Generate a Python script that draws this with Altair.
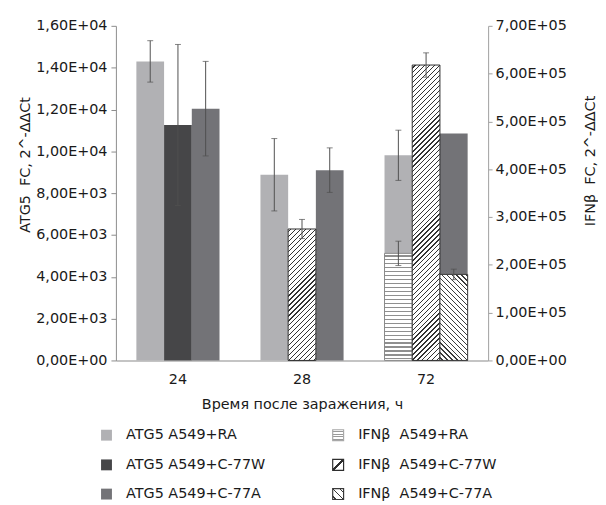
import altair as alt
import pandas as pd

# ---------------- data ----------------
times = ["24", "28", "72"]
series = ["A549+RA", "A549+C-77W", "A549+C-77A"]

atg5_ra = [14300, 8880, 9810]
atg5_c77w = [11260, None, None]
atg5_c77a = [12040, 9100, 10850]
atg5_ra_err = [990, 1730, 1200]
atg5_c77w_err = [3850, None, None]
atg5_c77a_err = [2260, 1065, None]

ifn_ra = [None, None, 224000]
ifn_c77w = [None, 275000, 618000]
ifn_c77a = [None, None, 180000]
ifn_ra_err = [None, None, 25500]
ifn_c77w_err = [None, 20000, 25500]
ifn_c77a_err = [None, None, 11000]

left_ticks = [0, 2000, 4000, 6000, 8000, 10000, 12000, 14000, 16000]
right_ticks = [0, 100000, 200000, 300000, 400000, 500000, 600000, 700000]

atg5_labels = ["ATG5 A549+RA", "ATG5 A549+C-77W", "ATG5 A549+C-77A"]
ifn_labels = ["IFN\u03b2\u00a0 A549+RA", "IFN\u03b2\u00a0 A549+C-77W", "IFN\u03b2\u00a0 A549+C-77A"]

x_title = "Время после заражения, ч"
left_title = "ATG5\u00a0 FC, 2^-\u0394\u0394Ct"
right_title = "IFN\u03b2\u00a0 FC, 2^-\u0394\u0394Ct"

# ---------------- styling / layout ----------------
FONT = "DejaVu Sans"
FS = 14.5
TXT = "#1a1a1a"
W, H = 376, 338
LMAX, RMAX = 16000, 700000
P_IN, P_OUT = 0.33, 0.165
atg5_colors = ["#b1b1b4", "#464648", "#737377"]
ERR = "#505050"

step = W / (len(times) - P_IN + 2 * P_OUT)
bar_w = step * (1 - P_IN) / len(series)


def long_df(vals, errs):
    rows = []
    for s, vs, es in zip(series, vals, errs):
        for t, v, e in zip(times, vs, es):
            if v is None:
                continue
            rows.append(dict(time=t, series=s, value=v, err=e))
    return pd.DataFrame(rows)


atg5 = long_df([atg5_ra, atg5_c77w, atg5_c77a], [atg5_ra_err, atg5_c77w_err, atg5_c77a_err])
ifn = long_df([ifn_ra, ifn_c77w, ifn_c77a], [ifn_ra_err, ifn_c77w_err, ifn_c77a_err])


def err_df(df):
    d = df.dropna(subset=["err"]).copy()
    d["lo"] = d["value"] - d["err"]
    d["hi"] = d["value"] + d["err"]
    return d


atg5_e = err_df(atg5)
ifn_e = err_df(ifn)


def sci_expr():
    e = "floor(log(datum.value) / LN10 + 1e-9)"
    return ("datum.value == 0 ? '0,00E+00' : replace(format(datum.value / pow(10, " + e +
            "), '.2f'), '.', ',') + 'E+' + (" + e + " < 10 ? '0' : '') + " + e)


X = alt.X(
    "time:N",
    scale=alt.Scale(domain=times, paddingInner=P_IN, paddingOuter=P_OUT),
    axis=alt.Axis(
        title=x_title, ticks=False, labelPadding=12, labelAngle=0,
        labelFont=FONT, labelFontSize=FS, labelColor=TXT,
        domainColor="#b0b0b0", domainWidth=1.5,
        titleFont=FONT, titleFontSize=FS, titleFontWeight="normal", titleColor=TXT,
        titleY=44.5, titleBaseline="middle",
    ),
)
XO = alt.XOffset("series:N", scale=alt.Scale(domain=series, paddingInner=0, paddingOuter=0))


def YL(field):
    return alt.Y(
        field,
        scale=alt.Scale(domain=[0, LMAX], nice=False, zero=True),
        axis=alt.Axis(
            orient="left", values=left_ticks, labelExpr=sci_expr(), grid=False,
            tickSize=5, tickColor="#8c8c8c", domainColor="#8c8c8c", labelPadding=4,
            labelFont=FONT, labelFontSize=FS, labelColor=TXT,
            title=left_title, titleFont=FONT, titleFontSize=FS, titleFontWeight="normal",
            titleColor=TXT, titleAngle=270, titleX=-91, titleY=140, titleAlign="center",
            titleBaseline="middle",
        ),
    )


def YR(field):
    return alt.Y(
        field,
        scale=alt.Scale(domain=[0, RMAX], nice=False, zero=True),
        axis=alt.Axis(
            orient="right", values=right_ticks, labelExpr=sci_expr(), grid=False,
            tickSize=4, tickColor="#a0a0a0", domainColor="#a0a0a0", labelPadding=3,
            labelFont=FONT, labelFontSize=FS, labelColor=TXT,
            title=right_title, titleFont=FONT, titleFontSize=FS, titleFontWeight="normal",
            titleColor=TXT, titleAngle=270, titleX=103.5, titleY=136, titleAlign="center",
            titleBaseline="middle",
        ),
    )


def stripe_grad(kind, w, h, period, lw, color, phase=None):
    if phase is None:
        phase = period / 2
    if kind == "h":
        span = h
        coords = dict(x1=0, y1=0, x2=0, y2=1)
    else:
        span = w + h
        k = (w + h) / (w * w + h * h)
        if kind == "/":
            coords = dict(x1=0, y1=0, x2=k * w, y2=k * h)
        else:
            coords = dict(x1=0, y1=1, x2=k * w, y2=1 - k * h)
    stops = [alt.GradientStop(offset=0, color="white")]
    i = 0
    while True:
        a = (phase + i * period) / span
        b = min((phase + i * period + lw) / span, 1)
        if a >= 1:
            break
        stops += [alt.GradientStop(offset=a, color="white"), alt.GradientStop(offset=a, color=color),
                  alt.GradientStop(offset=b, color=color), alt.GradientStop(offset=b, color="white")]
        i += 1
    stops.append(alt.GradientStop(offset=1, color="white"))
    return alt.LinearGradient(gradient="linear", stops=stops, **coords)


pattern_of = {
    "A549+RA": ("h", 4.0, 1.2, "#8f8f8f", "#8a8a8a"),
    "A549+C-77W": ("/", 5.0, 1.3, "#333333", "#2e2e2e"),
    "A549+C-77A": ("\\", 5.0, 1.2, "#3c3c3c", "#3a3a3a"),
}

# ---------------- ATG5 group (left axis) ----------------
atg5_bars = alt.Chart(atg5).mark_bar().encode(
    x=X, xOffset=XO, y=YL("value:Q"),
    color=alt.Color("series:N", scale=alt.Scale(domain=series, range=atg5_colors), legend=None),
)
atg5_rule = alt.Chart(atg5_e).mark_rule(color=ERR, strokeWidth=1).encode(
    x=X, xOffset=XO, y=YL("lo:Q"), y2="hi:Q")
atg5_tlo = alt.Chart(atg5_e).mark_tick(color=ERR, size=6, thickness=1).encode(x=X, xOffset=XO, y=YL("lo:Q"))
atg5_thi = alt.Chart(atg5_e).mark_tick(color=ERR, size=6, thickness=1).encode(x=X, xOffset=XO, y=YL("hi:Q"))
left_group = alt.layer(atg5_bars, atg5_rule, atg5_tlo, atg5_thi)

# ---------------- IFN group (right axis) ----------------
ifn_layers = []
for _, r in ifn.iterrows():
    kind, per, lw, col, stroke = pattern_of[r["series"]]
    h = r["value"] / RMAX * H
    g = stripe_grad(kind, bar_w, h, per, lw, col)
    ifn_layers.append(
        alt.Chart(pd.DataFrame([r])).mark_bar(fill=g, stroke=stroke, strokeWidth=1).encode(
            x=X, xOffset=XO, y=YR("value:Q"))
    )
ifn_rule = alt.Chart(ifn_e).mark_rule(color=ERR, strokeWidth=1).encode(
    x=X, xOffset=XO, y=YR("lo:Q"), y2="hi:Q")
ifn_tlo = alt.Chart(ifn_e).mark_tick(color=ERR, size=6, thickness=1).encode(x=X, xOffset=XO, y=YR("lo:Q"))
ifn_thi = alt.Chart(ifn_e).mark_tick(color=ERR, size=6, thickness=1).encode(x=X, xOffset=XO, y=YR("hi:Q"))
right_group = alt.layer(*ifn_layers, ifn_rule, ifn_tlo, ifn_thi)

# ---------------- legend (below the plot) ----------------
SW = 11
row_y = [413.5, 443.5, 473.0]
col_sw = [-15, 219]
col_tx = [10.3, 244.7]
legend_layers = []
for i, lab in enumerate(atg5_labels):
    d = pd.DataFrame({"label": [lab]})
    legend_layers.append(alt.Chart(d).mark_rect(fill=atg5_colors[i]).encode(
        x=alt.value(col_sw[0]), x2=alt.value(col_sw[0] + SW),
        y=alt.value(row_y[i] - SW / 2), y2=alt.value(row_y[i] + SW / 2)))
    legend_layers.append(alt.Chart(d).mark_text(align="left", baseline="middle", font=FONT,
                                                fontSize=FS, color=TXT).encode(
        x=alt.value(col_tx[0]), y=alt.value(row_y[i]), text="label:N"))
sw_patterns = [
    stripe_grad("h", SW, SW, 2.7, 1.0, "#9a9a9a", phase=1.2),
    stripe_grad("/", SW, SW, 22, 2.2, "#2e2e2e", phase=9.9),
    stripe_grad("\\", SW, SW, 7.3, 1.6, "#3a3a3a", phase=2.8),
]
sw_strokes = ["#a8a8a8", "#2e2e2e", "#3a3a3a"]
for i, lab in enumerate(ifn_labels):
    d = pd.DataFrame({"label": [lab]})
    legend_layers.append(alt.Chart(d).mark_rect(fill=sw_patterns[i], stroke=sw_strokes[i],
                                                strokeWidth=1.2).encode(
        x=alt.value(col_sw[1]), x2=alt.value(col_sw[1] + SW),
        y=alt.value(row_y[i] - SW / 2), y2=alt.value(row_y[i] + SW / 2)))
    legend_layers.append(alt.Chart(d).mark_text(align="left", baseline="middle", font=FONT,
                                                fontSize=FS, color=TXT).encode(
        x=alt.value(col_tx[1]), y=alt.value(row_y[i]), text="label:N"))

chart = alt.layer(left_group, right_group, *legend_layers).resolve_scale(y="independent").properties(
    width=W, height=H,
    autosize=alt.AutoSizeParams(type="none"),
    padding={"left": 109, "top": 15.5, "right": 111, "bottom": 143.5},
    background="white",
).configure_view(strokeWidth=0)

chart.save("out.html", embed_options={"renderer": "svg", "actions": False})
